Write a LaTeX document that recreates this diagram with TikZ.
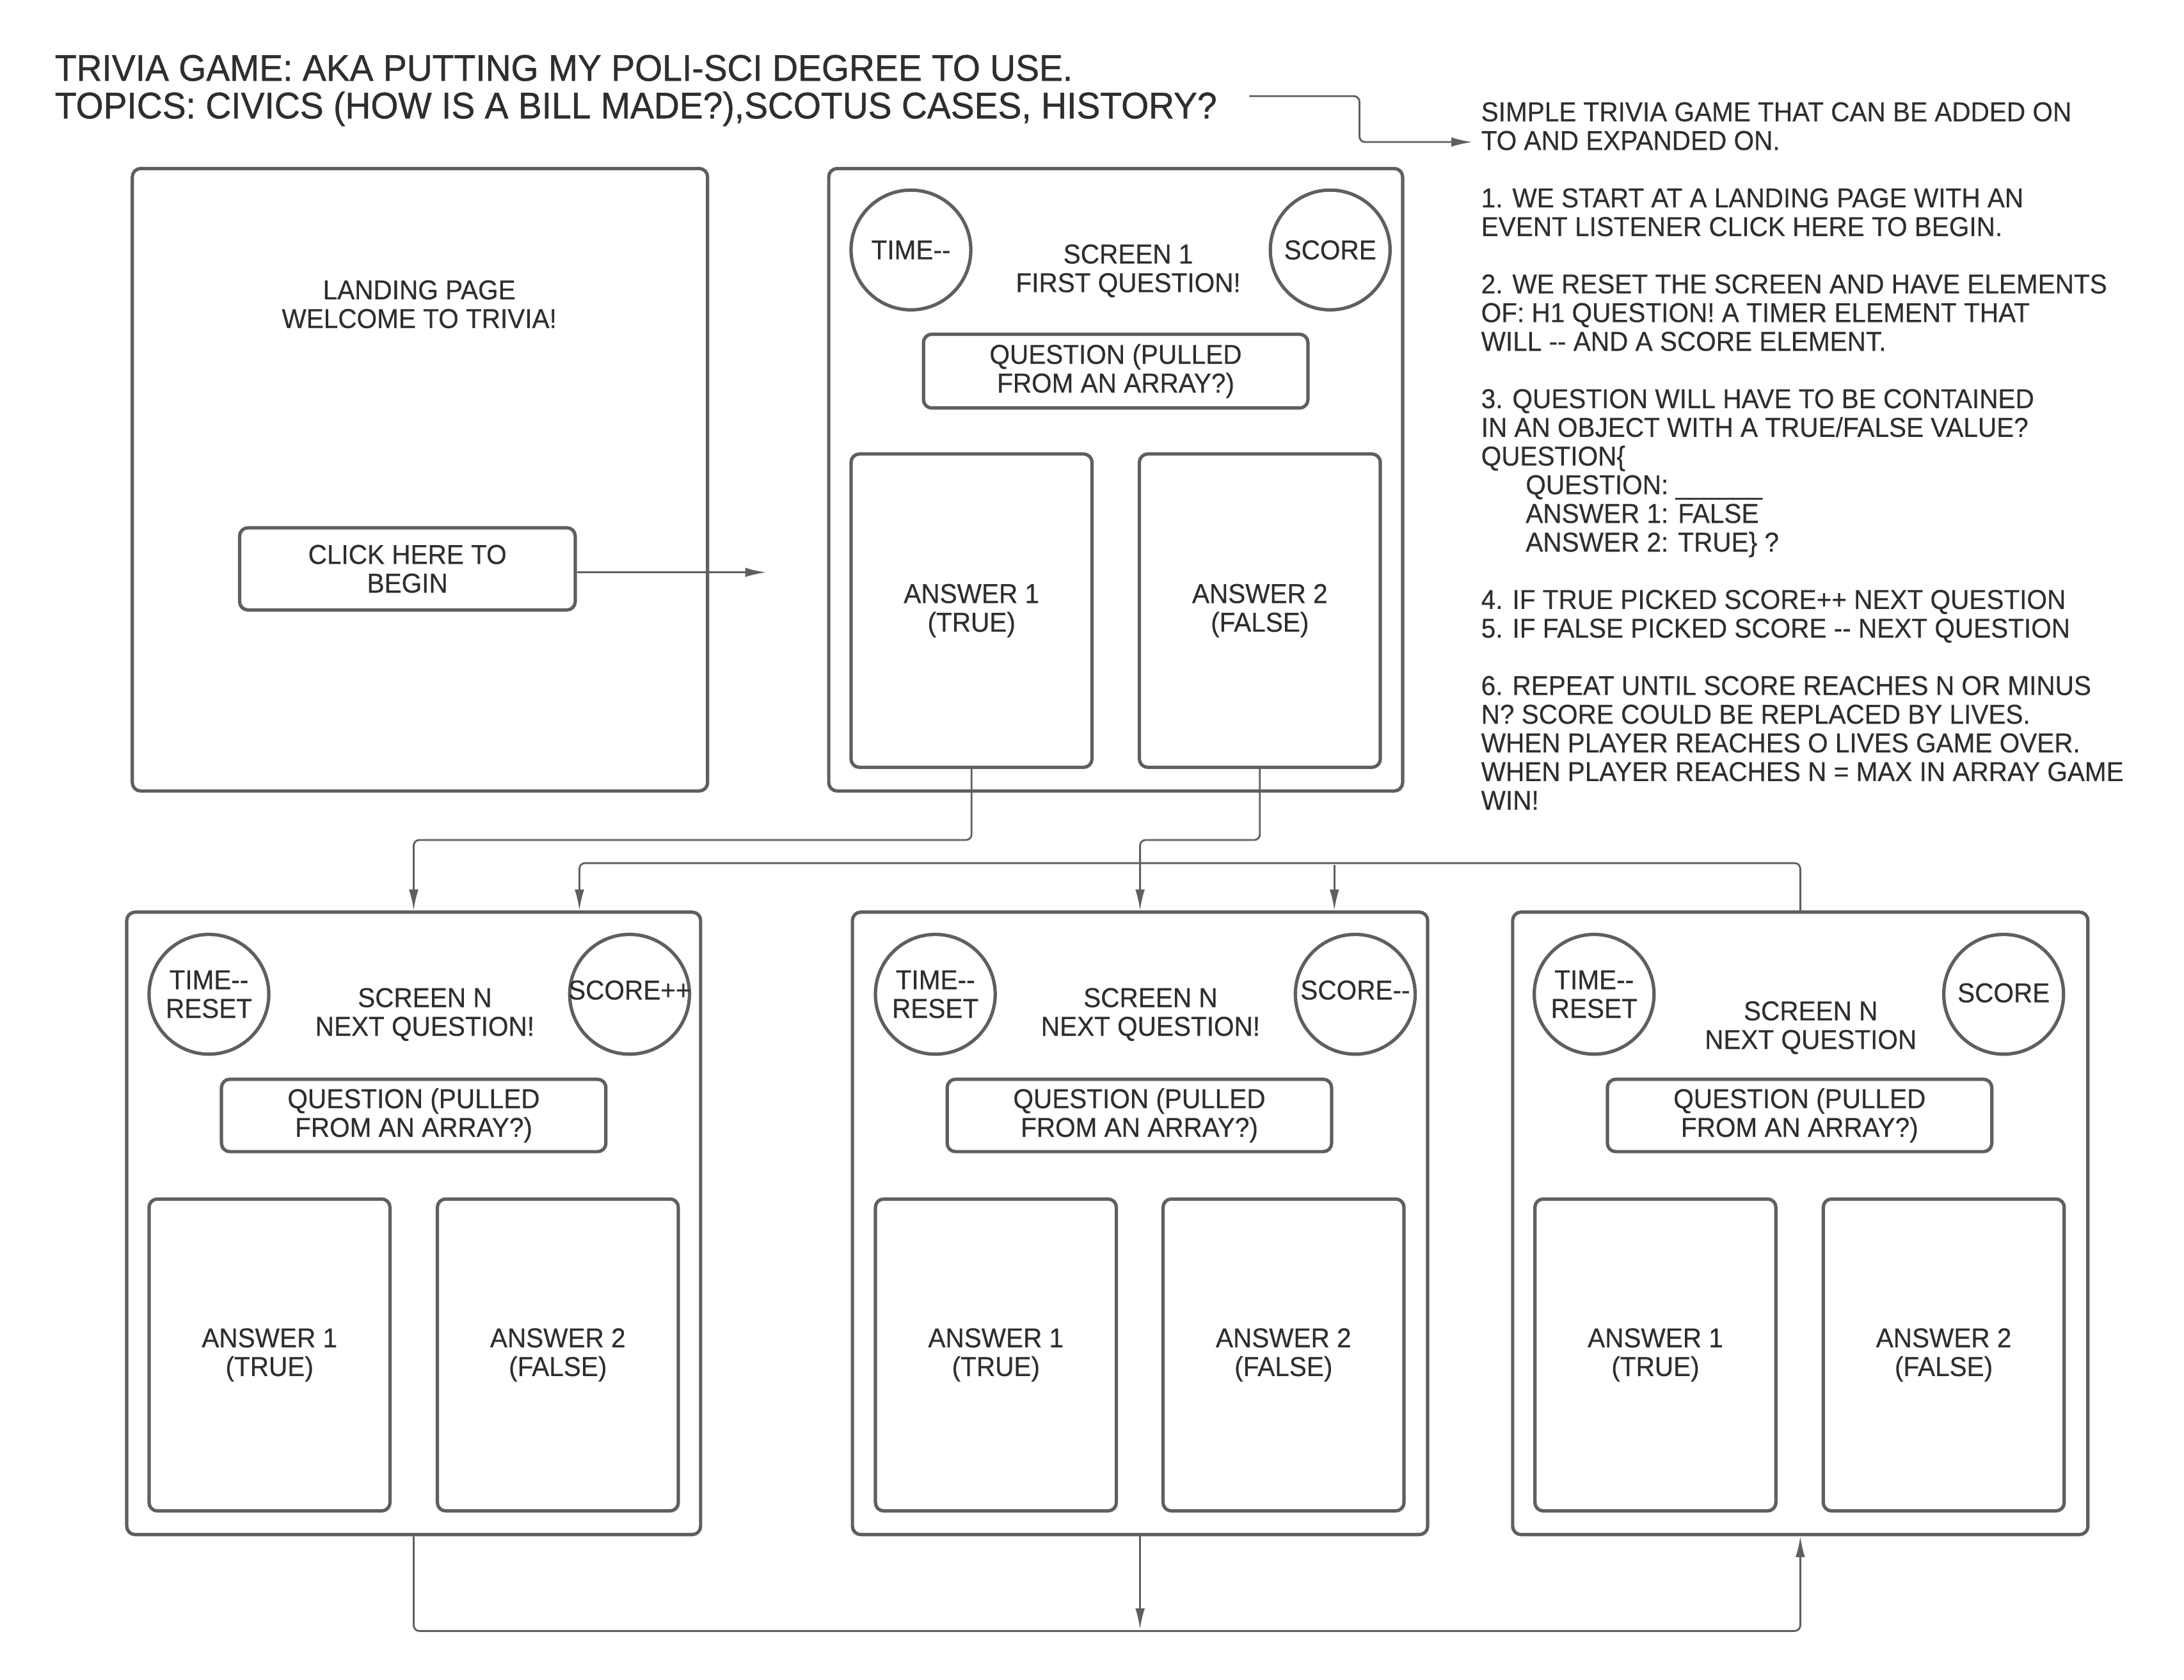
\documentclass[tikz,border=0pt]{standalone}
\usepackage{fontspec}
\setmainfont{Liberation Sans}[FakeStretch=0.95,FakeBold=0.4]
\newfontfamily\titlefont{Liberation Sans}[FakeStretch=0.955,FakeBold=0.8]
\usetikzlibrary{arrows.meta}
\definecolor{ln}{HTML}{5F5F5F}
\definecolor{tx}{HTML}{2E2E2E}
\begin{document}
\begin{tikzpicture}[x=0.5pt,y=-0.5pt,
  every node/.style={text=tx, font=\fontsize{9.8pt}{10.3pt}\selectfont},
  box/.style={draw=ln, line width=1.2pt, rounded corners=3pt, fill=white, inner sep=0pt, align=center},
  circ/.style={draw=ln, line width=1.2pt, circle, minimum size=43pt, inner sep=0pt},
  lbl/.style={align=center, inner sep=0pt},
  conn/.style={draw=ln, line width=0.65pt, rounded corners=2pt},
  arr/.style={conn, -{Latex[length=7.5pt,width=3.4pt]}},
  ttl/.style={anchor=base west, inner sep=0pt, font=\titlefont\fontsize{13.3pt}{13.5pt}\selectfont},
]
\useasboundingbox (0,0) rectangle (1568,1206);

% title
\node[ttl] (title1) at (39,58) {TRIVIA GAME: AKA PUTTING MY POLI-SCI DEGREE TO USE.};
\node[ttl] (title2) at (39,85) {TOPICS: CIVICS (HOW IS A BILL MADE?),SCOTUS CASES, HISTORY?};

% notes
\node[anchor=north west, inner sep=0pt, align=left] (note) at (1063,73) {SIMPLE TRIVIA GAME THAT CAN BE ADDED ON\\
TO AND EXPANDED ON.\\[10.3pt]
1. WE START AT A LANDING PAGE WITH AN\\
EVENT LISTENER CLICK HERE TO BEGIN.\\[10.3pt]
2. WE RESET THE SCREEN AND HAVE ELEMENTS\\
OF: H1 QUESTION! A TIMER ELEMENT THAT\\
WILL -{}- AND A SCORE ELEMENT.\\[10.3pt]
3. QUESTION WILL HAVE TO BE CONTAINED\\
IN AN OBJECT WITH A TRUE/FALSE VALUE?\\
QUESTION\{\\
\hspace*{16pt}QUESTION: \_\_\_\_\_\_\\
\hspace*{16pt}ANSWER 1: FALSE\\
\hspace*{16pt}ANSWER 2: TRUE\} ?\\[10.3pt]
4. IF TRUE PICKED SCORE++ NEXT QUESTION\\
5. IF FALSE PICKED SCORE -{}- NEXT QUESTION\\[10.3pt]
6. REPEAT UNTIL SCORE REACHES N OR MINUS\\
N? SCORE COULD BE REPLACED BY LIVES.\\
WHEN PLAYER REACHES O LIVES GAME OVER.\\
WHEN PLAYER REACHES N = MAX IN ARRAY GAME\\
WIN!};

\coordinate (ta) at (897,69);
\coordinate (tb) at (1057,102);
\draw[arr] (ta) -- (976,69) -- (976,102) -- (tb);

% landing page
\node[box, minimum width=206.5pt, minimum height=223.5pt] (land) at (301.5,344.5) {};
\node[lbl] (landt) at (301,218.5) {LANDING PAGE\\WELCOME TO TRIVIA!};
\node[box, minimum width=120.5pt, minimum height=29.5pt] (click) at (292.5,408.5) {CLICK HERE TO\\BEGIN};
\coordinate (clickend) at (550,411);
\draw[arr] (click.east |- clickend) -- (clickend);

% screen 1
\node[box, minimum width=206pt, minimum height=223.5pt] (s1) at (801,344.5) {};
\node[circ] (s1t) at (654,179.5) {};
\node[lbl] (s1tl) at (s1t) {TIME-{}-};
\node[circ] (s1s) at (955,179.5) {};
\node[lbl] (s1sl) at (s1s) {SCORE};
\node[lbl] (s1h) at (810,194.5) {SCREEN 1\\FIRST QUESTION!};
\node[box, minimum width=138pt, minimum height=26.5pt] (s1q) at (801,266.5) {QUESTION (PULLED\\FROM AN ARRAY?)};
\node[box, minimum width=86.5pt, minimum height=112.5pt] (s1a) at (697.5,438.5) {ANSWER 1\\(TRUE)};
\node[box, minimum width=86.5pt, minimum height=112.5pt] (s1b) at (904.5,438.5) {ANSWER 2\\(FALSE)};

% screen N (1)
\node[box, minimum width=206pt, minimum height=223.5pt] (n1) at (297,878.5) {};
\node[circ] (n1t) at (150,714) {};
\node[lbl] (n1tl) at (n1t) {TIME-{}-\\RESET};
\node[circ] (n1s) at (452,714) {};
\node[lbl] (n1sl) at (452,711) {SCORE++};
\node[lbl] (n1h) at (305,728.5) {SCREEN N\\NEXT QUESTION!};
\node[box, minimum width=138pt, minimum height=26pt] (n1q) at (297,801) {QUESTION (PULLED\\FROM AN ARRAY?)};
\node[box, minimum width=86.5pt, minimum height=112pt] (n1a) at (193.5,973) {ANSWER 1\\(TRUE)};
\node[box, minimum width=86.5pt, minimum height=112pt] (n1b) at (400.5,973) {ANSWER 2\\(FALSE)};

% screen N (2)
\node[box, minimum width=206.5pt, minimum height=223.5pt] (n2) at (818.5,878.5) {};
\node[circ] (n2t) at (671.5,714) {};
\node[lbl] (n2tl) at (n2t) {TIME-{}-\\RESET};
\node[circ] (n2s) at (973,714) {};
\node[lbl] (n2sl) at (973,711) {SCORE-{}-};
\node[lbl] (n2h) at (826,728.5) {SCREEN N\\NEXT QUESTION!};
\node[box, minimum width=138pt, minimum height=26pt] (n2q) at (818,801) {QUESTION (PULLED\\FROM AN ARRAY?)};
\node[box, minimum width=86.5pt, minimum height=112pt] (n2a) at (715,973) {ANSWER 1\\(TRUE)};
\node[box, minimum width=86.5pt, minimum height=112pt] (n2b) at (921.5,973) {ANSWER 2\\(FALSE)};

% screen N (3)
\node[box, minimum width=206.5pt, minimum height=223.5pt] (n3) at (1292.5,878.5) {};
\node[circ] (n3t) at (1144.5,714) {};
\node[lbl] (n3tl) at (n3t) {TIME-{}-\\RESET};
\node[circ] (n3s) at (1438.5,714) {};
\node[lbl] (n3sl) at (1438.5,713) {SCORE};
\node[lbl] (n3h) at (1300,738) {SCREEN N\\NEXT QUESTION};
\node[box, minimum width=138pt, minimum height=26pt] (n3q) at (1292,801) {QUESTION (PULLED\\FROM AN ARRAY?)};
\node[box, minimum width=86.5pt, minimum height=112pt] (n3a) at (1188.5,973) {ANSWER 1\\(TRUE)};
\node[box, minimum width=86.5pt, minimum height=112pt] (n3b) at (1395.5,973) {ANSWER 2\\(FALSE)};

% connectors
\draw[arr] (s1a.south) -- ++(0,51) -| (n1.north);
\draw[arr] (s1b.south) -- ++(0,51) -| (n2.north);
\draw[arr] (n3.north) -- ++(0,-34) -| ([xshift=59.5pt]n1.north);
\coordinate (br) at (958,621);
\draw[arr] (br) -- ([xshift=69.75pt]n2.north);
\draw[arr] (n1.south) -- ++(0,68) -| (n3.south);
\coordinate (bj) at (818.5,1170);
\draw[arr] (n2.south) -- (bj);
\end{tikzpicture}
\end{document}
